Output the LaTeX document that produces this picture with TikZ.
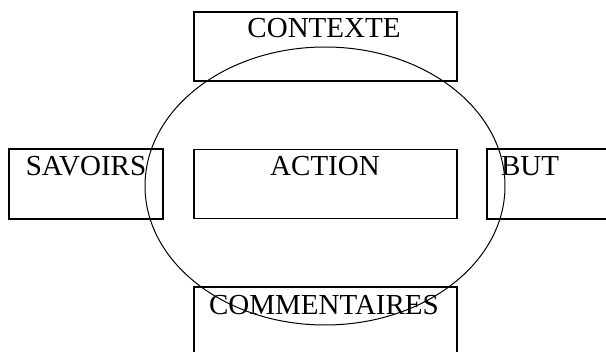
\documentclass[tikz,border=0pt]{standalone}
\usepackage{fontspec}
\setmainfont{Liberation Serif}
\usetikzlibrary{positioning}
\tikzset{
	boite/.style={draw, line width=1.4pt, minimum width=263pt, minimum height=69pt, inner sep=0pt},
	titre/.style={anchor=base, inner sep=0pt, font=\fontsize{29}{31}\selectfont},
}
\begin{document}
\begin{tikzpicture}[x=1pt,y=-1pt]
			\useasboundingbox (0,0) rectangle (606,352);
			\clip (0,0) rectangle (606,352);
			\node [boite] (contexte) at (325.5,46.5) {};
			\node [boite, minimum width=154pt, minimum height=70pt] (savoirs) at (86,184) {};
			\node [boite] (action) at (325.5,184) {};
			\node [boite, minimum width=160pt, minimum height=70pt] (but) at (567,184) {};
			\node [boite, minimum height=100pt] (commentaires) at (325.5,337) {};
			\draw [line width=1pt] (325,186) ellipse (180pt and 139pt);
			\node [titre] at (324,38) {CONTEXTE};
			\node [titre] at (86,176) {SAVOIRS};
			\node [titre] at (325,176) {ACTION};
			\node [titre] at (530,176) {BUT};
			\node [titre] at (324,315) {COMMENTAIRES};
		\end{tikzpicture}
\end{document}
